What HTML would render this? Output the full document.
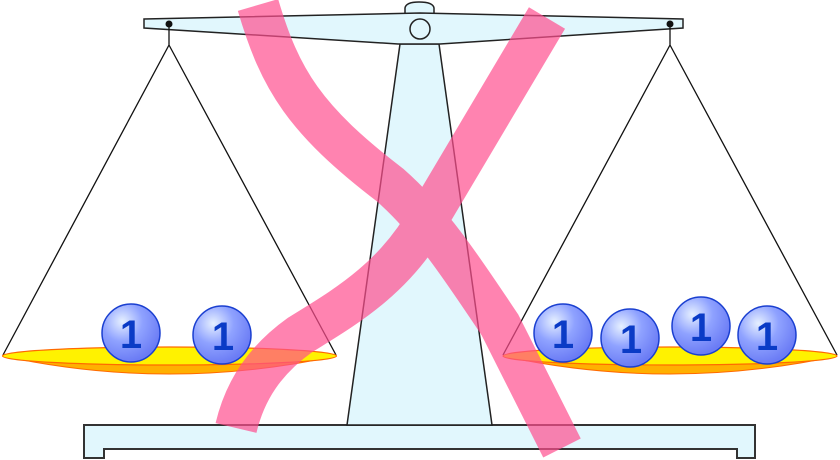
<!DOCTYPE html>
<html><head><style>html,body{margin:0;padding:0;background:#fff}svg{display:block}</style></head>
<body>
<svg width="840" height="460" viewBox="0 0 840 460" xmlns="http://www.w3.org/2000/svg">
<defs>
<radialGradient id="b" cx="0.35" cy="0.3" r="0.7">
<stop offset="0" stop-color="#e6f0ff"/><stop offset="0.5" stop-color="#8fa2ff"/><stop offset="1" stop-color="#6b7cf5"/>
</radialGradient>
</defs>
<path d="M84 425 L755 425 L755 458 L737 458 L737 449 L104 449 L104 458 L84 458 Z" fill="#e1f7fd" stroke="#333" stroke-width="2"/>
<path d="M400 44 L439 44 L492 425 L347 425 Z" fill="#e1f7fd" stroke="#222" stroke-width="1.5"/>
<path d="M405 13 L405 8 Q406 2 419 2 Q433 2 434 8 L434 13" fill="#e1f7fd" stroke="#222" stroke-width="1.5"/>
<path d="M144 19 L420 13 L683 19 L683 28 L440 44 L398 44 L144 28 Z" fill="#e1f7fd" stroke="#222" stroke-width="1.5"/>
<circle cx="420" cy="29" r="10" fill="#e1f7fd" stroke="#222" stroke-width="1.5"/>
<g stroke="#111" stroke-width="1.3" fill="none">
<path d="M169 24 L169 45 L3 355 M169 45 L336 355"/>
<path d="M670 24 L670 45 L503 355 M670 45 L837 355"/>
</g>
<circle cx="169" cy="24" r="3.5" fill="#111"/>
<circle cx="670" cy="24" r="3.5" fill="#111"/>
<g>
<path d="M3 356 Q169 392 336 356 Z" fill="#ffb000" stroke="#ff6a00" stroke-width="1"/>
<ellipse cx="169.5" cy="356" rx="167" ry="9" fill="#fff200" stroke="#ff6a00" stroke-width="1.2"/>
<path d="M503 356 Q670 392 837 356 Z" fill="#ffb000" stroke="#ff6a00" stroke-width="1"/>
<ellipse cx="670" cy="356" rx="167" ry="9" fill="#fff200" stroke="#ff6a00" stroke-width="1.2"/>
</g>
<g font-family="Liberation Sans, sans-serif" font-size="40" font-weight="bold" fill="#0a3bc6" text-anchor="middle">
<g stroke="#1a3fd0" stroke-width="1.5" fill="url(#b)">
<circle cx="131" cy="333" r="29"/><circle cx="222" cy="335" r="29"/>
<circle cx="563" cy="333" r="29"/><circle cx="630" cy="338" r="29"/>
<circle cx="701" cy="326" r="29"/><circle cx="767" cy="335" r="29"/>
</g>
<text x="131" y="348">1</text><text x="223" y="350">1</text>
<text x="563" y="348">1</text><text x="631" y="353">1</text>
<text x="701" y="341">1</text><text x="767" y="350">1</text>
</g>
<g fill="none" stroke="#ff4f8f" opacity="0.7" stroke-width="42" stroke-linecap="butt">
<path d="M258 5 C280 80, 305 120, 390 185 C430 220, 460 265, 500 325 L562 448"/>
<path d="M547 18 L430 215 C395 280, 340 310, 300 335 C265 360, 245 390, 236 428"/>
</g>
</svg>
</body></html>
